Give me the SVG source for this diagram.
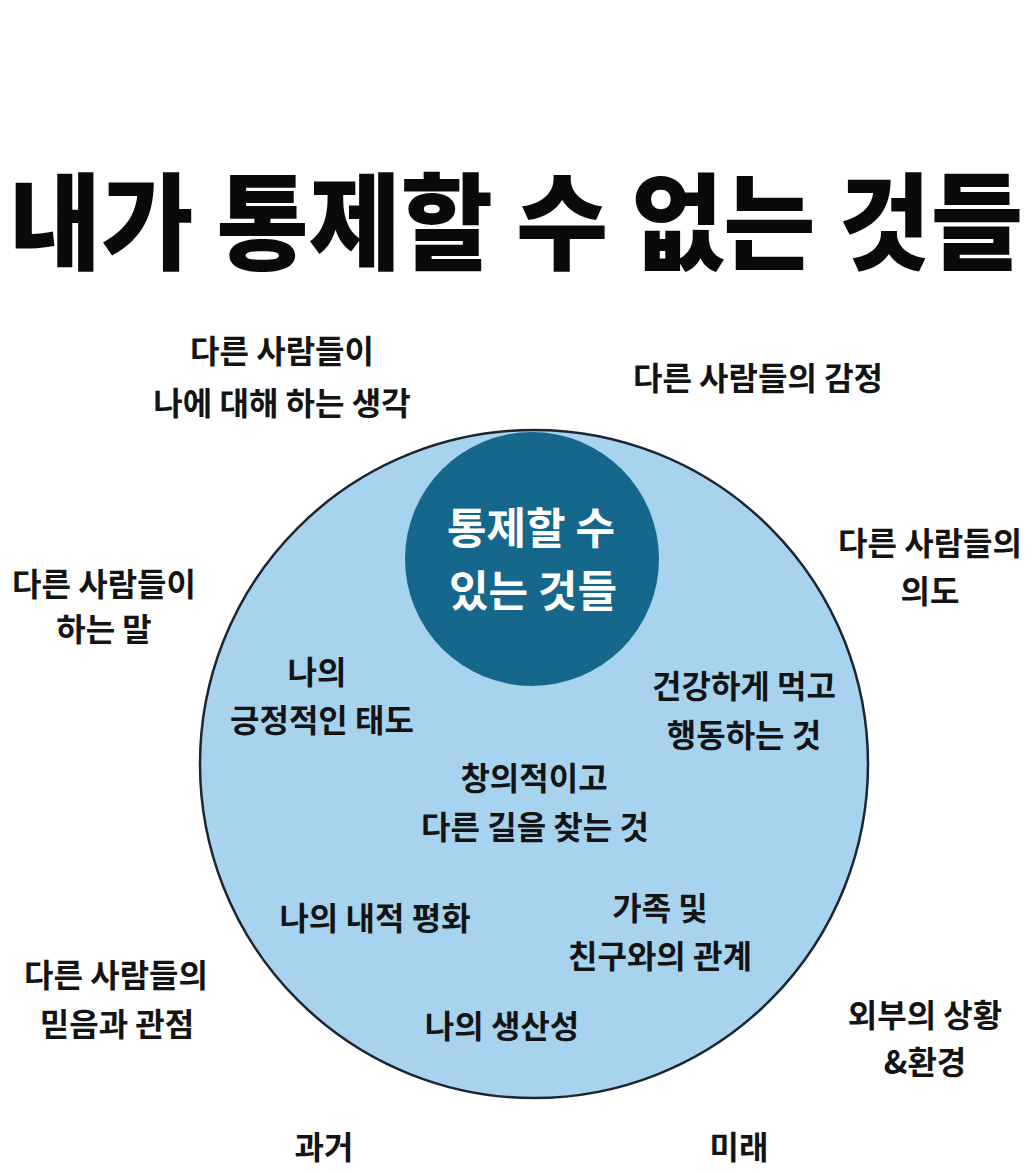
<svg xmlns="http://www.w3.org/2000/svg" width="1032" height="1174" viewBox="0 0 1032 1174">
<style>
  text { font-family: "Noto Sans CJK KR", "Noto Sans", sans-serif; text-anchor: middle; }
  .t { font-size: 32px; font-weight: 700; fill: #141414; }
  .w { font-size: 43px; font-weight: 700; fill: #ffffff; }
  .title { font-size: 95px; font-weight: 900; fill: #0a0a0a; }
</style>
<rect width="1032" height="1174" fill="#ffffff"/>
<g id="title">
  <text class="title" x="0" y="0" transform="translate(516,261) scale(1.055,1.1)">내가 통제할 수 없는 것들</text>
</g>
<g id="outer-circle">
  <circle cx="534" cy="764" r="334" fill="#A7D3EE"/>
</g>
<g id="inner-circle">
  <circle cx="532" cy="559" r="127" fill="#16678C"/>
  <text class="w" x="531" y="544">통제할 수</text>
  <text class="w" x="533" y="607">있는 것들</text>
</g>
<circle cx="534" cy="764" r="334" fill="none" stroke="#1c2633" stroke-width="2.5"/>
<g id="attitude">
  <text class="t" x="317" y="684">나의</text>
  <text class="t" x="322" y="732">긍정적인 태도</text>
</g>
<g id="health">
  <text class="t" x="744" y="698">건강하게 먹고</text>
  <text class="t" x="744" y="747">행동하는 것</text>
</g>
<g id="creative">
  <text class="t" x="534" y="790">창의적이고</text>
  <text class="t" x="535" y="839">다른 길을 찾는 것</text>
</g>
<g id="inner-peace">
  <text class="t" x="375" y="930">나의 내적 평화</text>
</g>
<g id="relationships">
  <text class="t" x="660" y="920">가족 및</text>
  <text class="t" x="660" y="968">친구와의 관계</text>
</g>
<g id="productivity">
  <text class="t" x="502" y="1038">나의 생산성</text>
</g>
<g id="others-thoughts">
  <text class="t" x="282" y="363">다른 사람들이</text>
  <text class="t" x="282" y="415">나에 대해 하는 생각</text>
</g>
<g id="others-emotions">
  <text class="t" x="758" y="390">다른 사람들의 감정</text>
</g>
<g id="others-intent">
  <text class="t" x="930" y="555">다른 사람들의</text>
  <text class="t" x="930" y="603">의도</text>
</g>
<g id="others-words">
  <text class="t" x="104" y="596">다른 사람들이</text>
  <text class="t" x="104" y="641">하는 말</text>
</g>
<g id="others-beliefs">
  <text class="t" x="116" y="987">다른 사람들의</text>
  <text class="t" x="117" y="1036">믿음과 관점</text>
</g>
<g id="external">
  <text class="t" x="925" y="1027">외부의 상황</text>
  <text class="t" x="925" y="1074">&amp;환경</text>
</g>
<g id="past">
  <text class="t" x="324" y="1159">과거</text>
</g>
<g id="future">
  <text class="t" x="739" y="1159">미래</text>
</g>
</svg>
